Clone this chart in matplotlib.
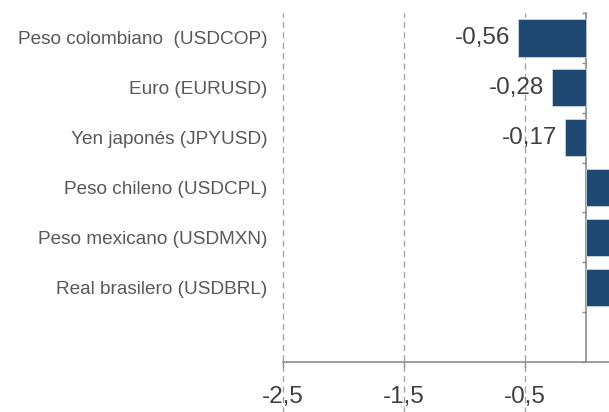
import numpy as np
from matplotlib import pyplot as plt

plt.rcParams['font.family'] = ['Liberation Sans', 'DejaVu Sans']

# datos (variación %, las tres positivas quedan fuera del recorte)
monedas = ['Peso colombiano  (USDCOP)', 'Euro (EURUSD)', 'Yen japonés (JPYUSD)',
           'Peso chileno (USDCPL)', 'Peso mexicano (USDMXN)', 'Real brasilero (USDBRL)']
variacion = [-0.56, -0.28, -0.17, 0.45, 0.62, 0.80]
x_ticks = [-2.5, -1.5, -0.5]

bar_color = '#1f4872'
axis_color = '#8c8c8c'
grid_color = '#a6a6a6'
text_color = '#404040'
label_color = '#595959'


def coma(v, dec):
    return f'{v:.{dec}f}'.replace('.', ',')


fig = plt.figure(figsize=(6.09, 4.12), dpi=100)
ax = fig.add_axes([283 / 609, 1 - 362 / 412, 3.2 * 121 / 609, 349 / 412])

pos = np.arange(len(monedas))
ax.barh(pos, variacion, height=0.75, color=bar_color, edgecolor='#d5dee8',
        linewidth=0.5, zorder=3)
ax.set_xlim(-2.5, 0.7)
ax.set_ylim(len(monedas) + 0.5, -0.5)

# lineas guia punteadas que bajan hasta las etiquetas
for x in x_ticks:
    ax.axvline(x, ymin=-0.15, ymax=1, clip_on=False, color=grid_color,
               lw=1.0, ls=(0, (4.5, 3)), zorder=1)

# solo las etiquetas negativas caen dentro del recorte
for i, v in enumerate(variacion):
    if v < 0:
        ax.text(v - 0.06, i, coma(v, 2), ha='right', va='center',
                fontsize=17.5, color=text_color, zorder=4)

ax.set_yticks(pos, monedas)
ax.tick_params(axis='y', length=0, pad=11.5, labelsize=13.7, labelcolor=label_color)
ax.set_xticks(x_ticks, [coma(t, 1) for t in x_ticks])
ax.tick_params(axis='x', length=3.6, width=1.0, color=axis_color, pad=14,
               labelsize=17.5, labelcolor=text_color)

for s in ['top', 'right', 'left']:
    ax.spines[s].set_visible(False)
ax.spines['bottom'].set_color(axis_color)
ax.spines['bottom'].set_linewidth(1.2)

# eje del cero con marcas entre categorias
sec = ax.secondary_yaxis(2.5 / 3.2)
sec.set_alignment('left')
sec.set_yticks(np.arange(-0.5, len(monedas) + 1, 1))
sec.set_yticklabels([])
sec.tick_params(length=3, width=1.0, color=axis_color, direction='out')
for s in ['left', 'right']:
    sec.spines[s].set_color(axis_color)
    sec.spines[s].set_linewidth(1.2)

plt.savefig('out.png', dpi=100)
